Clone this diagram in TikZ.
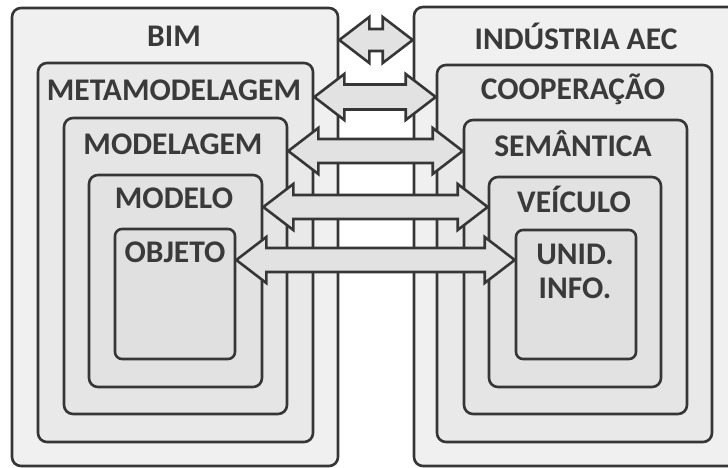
\documentclass[tikz,border=0pt]{standalone}
\usepackage{fontspec}
\setmainfont{Carlito}
\usetikzlibrary{calc}
\definecolor{edge}{HTML}{363636}
\definecolor{txt}{HTML}{3A3A3A}
\definecolor{f1}{HTML}{F0F0F0}
\definecolor{f2}{HTML}{E9E9E9}
\definecolor{f3}{HTML}{E5E5E5}
\definecolor{f4}{HTML}{E2E2E2}
\definecolor{f5}{HTML}{E0E0E0}
\definecolor{af}{HTML}{E2E2E2}
\tikzset{
  box/.style={draw=edge, line width=2.6pt, rounded corners=9pt, inner sep=0pt},
  lbl/.style={text=txt, font=\fontsize{31.5}{34}\selectfont\bfseries, inner sep=0pt, align=center},
  blockarrow/.style={draw=edge, fill=af, line width=2.6pt, line join=miter},
}
\newcommand\dblarrow[4]{% left node, right node, y, shaft half-height
  \path (#1.east |- 0,#3) coordinate (aL) (#2.west |- 0,#3) coordinate (aR);
  \draw[blockarrow] let \p1=(aL), \p2=(aR) in
    (\x1,\y1) -- (\x1+30pt,\y1+23pt) -- (\x1+30pt,\y1+#4) -- (\x2-30pt,\y1+#4)
    -- (\x2-30pt,\y1+23pt) -- (\x2,\y1) -- (\x2-30pt,\y1-23pt) -- (\x2-30pt,\y1-#4)
    -- (\x1+30pt,\y1-#4) -- (\x1+30pt,\y1-23pt) -- cycle;
}
\begin{document}
\begin{tikzpicture}[x=1pt,y=-1pt]
\useasboundingbox (0,0) rectangle (728,468);
\begin{scope}
\clip (0,0) rectangle (728,468);
% left stack
\node[box, fill=f1, minimum width=326pt, minimum height=458pt] (bim) at (175,237) {};
\node[box, fill=f2, minimum width=275pt, minimum height=379pt] (meta) at (175.5,252.5) {};
\node[box, fill=f3, minimum width=223pt, minimum height=296pt] (modg) at (175.5,266) {};
\node[box, fill=f4, minimum width=173pt, minimum height=212pt] (modl) at (175.5,281) {};
\node[box, fill=f5, minimum width=120pt, minimum height=130pt, rounded corners=7pt] (obj) at (175,294) {};
% right stack
\node[box, fill=f1, minimum width=326pt, minimum height=459pt] (aec) at (577,236.5) {};
\node[box, fill=f2, minimum width=275pt, minimum height=377pt] (coop) at (574.5,253.5) {};
\node[box, fill=f3, minimum width=223pt, minimum height=294pt] (sem) at (575.5,267) {};
\node[box, fill=f4, minimum width=172pt, minimum height=210pt] (vei) at (575,282) {};
\node[box, fill=f5, minimum width=120pt, minimum height=129pt, rounded corners=7pt] (unid) at (576,294.5) {};
% labels
\node[lbl] (tbim) at (174,36) {BIM};
\node[lbl] (tmeta) at (174,90) {METAMODELAGEM};
\node[lbl] (tmodg) at (173,144) {MODELAGEM};
\node[lbl] (tmodl) at (174,198) {MODELO};
\node[lbl] (tobj) at (175,252) {OBJETO};
\node[lbl] (taec) at (576,36) {INDÚSTRIA AEC};
\node[lbl] (tcoop) at (573,89) {COOPERAÇÃO};
\node[lbl] (tsem) at (573,144) {SEMÂNTICA};
\node[lbl] (tvei) at (574,199) {VEÍCULO};
\node[lbl] (tunid) at (575,271) {UNID.\\INFO.};
% arrows
\dblarrow{bim}{aec}{40}{11pt}
\dblarrow{meta}{coop}{97}{12.5pt}
\dblarrow{modg}{sem}{151}{12pt}
\dblarrow{modl}{vei}{207}{12pt}
\dblarrow{obj}{unid}{260}{12pt}
\end{scope}
\end{tikzpicture}
\end{document}
